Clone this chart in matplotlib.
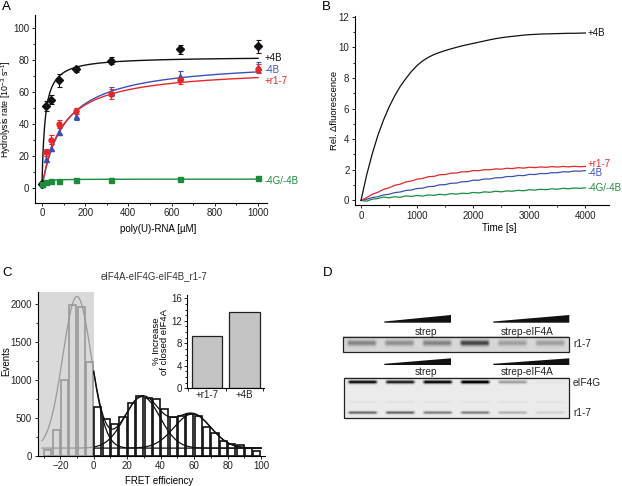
import numpy as np
import matplotlib
matplotlib.use("Agg")
import matplotlib.pyplot as plt
from matplotlib.patches import Polygon, Rectangle
from matplotlib.ticker import MultipleLocator

plt.rcParams['font.family'] = ['Liberation Sans', 'DejaVu Sans']
plt.rcParams['font.size'] = 7
plt.rcParams['axes.linewidth'] = 0.8
plt.rcParams['mathtext.fontset'] = 'custom'
plt.rcParams['mathtext.rm'] = 'Liberation Sans'
plt.rcParams['mathtext.it'] = 'Liberation Sans:italic'
plt.rcParams['mathtext.bf'] = 'Liberation Sans:bold'

W, H = 622, 486

# ---------------- data ----------------
# A: ATPase rate vs poly(U)-RNA
conc = [0, 20, 40, 80, 160, 320, 640, 1000]
rate_4B = [2, 51, 55, 67, 74, 79.5, 86.5, 88.5]
err_4B = [1, 3, 3, 4, 1.5, 2, 3, 4]
rate_m4B = [2, 18, 25, 35, 45, 60, 70, 75.5]
err_m4B = [1, 2, 2, 2, 3, 3, 3, 3]
rate_r17 = [3, 22, 30, 40, 48, 58.5, 67, 74.5]
err_r17 = [1, 2, 3, 2, 2, 3, 2, 3]
rate_m4G = [2, 3.5, 4, 4.2, 4.5, 4.8, 5.3, 6.2]
err_m4G = [0.5, 0.5, 0.5, 0.5, 0.5, 0.5, 0.5, 0.5]
# Michaelis-Menten fits (+4B, -4B, +r1-7, -4G/-4B)
fit_vmax = [82, 80, 75, 5.3]
fit_km = [14, 105, 90, 8]

# B: fluorescence traces, one value every 100 s
time_s = np.arange(0, 4001, 100)
fl_4B = [0, 1.65, 3.04, 4.24, 5.24, 6.10, 6.83, 7.45, 7.97, 8.43, 8.82,
         9.12, 9.35, 9.53, 9.67, 9.79, 9.90, 10.00, 10.10, 10.18, 10.26,
         10.34, 10.42, 10.50, 10.57, 10.63, 10.68, 10.72, 10.76, 10.80, 10.83,
         10.85, 10.87, 10.88, 10.89, 10.90, 10.91, 10.92, 10.92, 10.93, 10.94]
fl_r17 = [0, 0.18, 0.40, 0.53, 0.72, 0.82, 0.99, 1.06, 1.21, 1.27, 1.39,
          1.43, 1.55, 1.57, 1.68, 1.69, 1.78, 1.79, 1.87, 1.87, 1.95,
          1.94, 2.01, 2.00, 2.06, 2.04, 2.10, 2.08, 2.14, 2.11, 2.17,
          2.14, 2.19, 2.16, 2.21, 2.18, 2.22, 2.19, 2.23, 2.20, 2.22]
fl_m4B = [0, 0.07, 0.19, 0.24, 0.36, 0.40, 0.51, 0.55, 0.65, 0.68, 0.78,
          0.80, 0.90, 0.92, 1.02, 1.03, 1.12, 1.13, 1.22, 1.23, 1.32,
          1.32, 1.40, 1.40, 1.48, 1.48, 1.56, 1.56, 1.63, 1.62, 1.70,
          1.69, 1.76, 1.75, 1.81, 1.81, 1.87, 1.86, 1.92, 1.91, 1.95]
fl_m4G = [0.0, -0.05, 0.08, 0.12, 0.22, 0.17, 0.24, 0.20, 0.30, 0.26, 0.32,
          0.28, 0.36, 0.33, 0.40, 0.36, 0.44, 0.41, 0.47, 0.45, 0.52,
          0.49, 0.56, 0.53, 0.60, 0.56, 0.62, 0.60, 0.66, 0.63, 0.70,
          0.67, 0.73, 0.70, 0.76, 0.73, 0.79, 0.76, 0.81, 0.79, 0.82]

# C: FRET histogram (5 % bins from -30 to 100)
bin_left = np.arange(-30, 100, 5)
events = [75, 340, 995, 1985, 1965, 1240, 638, 490, 415, 515, 700, 785, 765,
          745, 615, 515, 530, 550, 525, 385, 303, 200, 150, 140, 105, 60]
gauss_mu = [-10, 29, 59]
gauss_amp = [2000, 680, 450]
gauss_sd = [8.5, 10.5, 11]
gauss_base = 100
inset_labels = ['+r1-7', '+4B']
inset_vals = [9.35, 13.6]

# D: gel band intensities per lane
up_r17 = [0.32, 0.28, 0.33, 0.58, 0.22, 0.22]
low_eif4g = [0.88, 0.82, 0.92, 0.97, 0.30, 0.02]
low_r17 = [0.50, 0.52, 0.42, 0.42, 0.22, 0.10]

C_BLK, C_BLU, C_RED, C_GRN = '#111111', '#3b52b4', '#e8262a', '#1b8c3c'


def box(l, t, r, b):
    return [l / W, 1 - b / H, (r - l) / W, (b - t) / H]


def style(ax):
    for s in ['top', 'right']:
        ax.spines[s].set_visible(False)
    ax.tick_params(direction='out', length=2.5, width=0.7, labelsize=7,
                   pad=1.5, colors='#222222')
    ax.tick_params(which='minor', direction='out', length=1.5, width=0.6)


fig = plt.figure(figsize=(W / 100, H / 100), dpi=100)

# ---------------- A ----------------
ax = fig.add_axes(box(35, 15, 266.7, 202.7))
style(ax)
xs = np.linspace(0, 1000, 400)
sets = [(rate_m4B, err_m4B, C_BLU, '^', 1), (rate_r17, err_r17, C_RED, 'o', 2),
        (rate_4B, err_4B, C_BLK, 'D', 0), (rate_m4G, err_m4G, C_GRN, 's', 3)]
for vals, err, col, mk, k in sets:
    ax.plot(xs, fit_vmax[k] * xs / (fit_km[k] + xs), color=col, lw=1.0)
    ax.errorbar(conc, vals, yerr=err, fmt=mk, color=col, ms=3.6, capsize=1.8,
                elinewidth=0.8, capthick=0.8)
ax.set_xlim(-32, 1040)
ax.set_ylim(-9.5, 108)
ax.xaxis.set_major_locator(MultipleLocator(200))
ax.xaxis.set_minor_locator(MultipleLocator(100))
ax.yaxis.set_major_locator(MultipleLocator(20))
ax.yaxis.set_minor_locator(MultipleLocator(10))
ax.set_xlabel('poly(U)-RNA [µM]', fontsize=7)
ax.set_ylabel('Hydrolysis rate [10$^{-3}$ s$^{-1}$]', fontsize=6.3)
ax.xaxis.set_label_coords(0.53, -0.113)
ax.yaxis.set_label_coords(-0.095, 0.5)
for txt, y, col in [('+4B', 80.9, C_BLK), ('-4B', 73.6, C_BLU),
                    ('+r1-7', 66.7, C_RED), ('-4G/-4B', 4.2, C_GRN)]:
    ax.text(1028, y, txt, color=col, fontsize=7, va='center', ha='left')

# ---------------- B ----------------
ax = fig.add_axes(box(355, 16, 609, 205))
style(ax)
ax.plot(time_s, fl_m4G, color=C_GRN, lw=0.9)
ax.plot(time_s, fl_m4B, color=C_BLU, lw=0.9)
ax.plot(time_s, fl_r17, color=C_RED, lw=0.9)
ax.plot(time_s, fl_4B, color=C_BLK, lw=0.9)
ax.set_xlim(-107, 4420)
ax.set_ylim(-0.3, 12.05)
ax.xaxis.set_major_locator(MultipleLocator(1000))
ax.xaxis.set_minor_locator(MultipleLocator(500))
ax.yaxis.set_major_locator(MultipleLocator(2))
ax.yaxis.set_minor_locator(MultipleLocator(1))
ax.set_xlabel('Time [s]', fontsize=7)
ax.set_ylabel('Rel. \u0394fluorescence', fontsize=6.8)
ax.xaxis.set_label_coords(0.567, -0.094)
ax.yaxis.set_label_coords(-0.063, 0.5)
for txt, y, col in [('+4B', 10.94, C_BLK), ('+r1-7', 2.37, C_RED),
                    ('-4B', 1.82, C_BLU), ('-4G/-4B', 0.81, C_GRN)]:
    ax.text(4040, y, txt, color=col, fontsize=7, va='center', ha='left')

# ---------------- C ----------------
ax = fig.add_axes(box(37.7, 291.7, 265, 455.7))
style(ax)
xmin, xmax = -33.5, 102.4
ax.axvspan(xmin, 0, color='#d9d9d9', zorder=0, lw=0)
centers = bin_left + 2.5
neg = centers < 0
ax.bar(centers[neg], np.array(events)[neg], width=4.2, facecolor='none',
       edgecolor='#999999', lw=1.2, zorder=2)
ax.bar(centers[~neg], np.array(events)[~neg], width=4.2, facecolor='none',
       edgecolor='#111111', lw=1.2, zorder=2)


def gauss(x, k):
    return gauss_amp[k] * np.exp(-(x - gauss_mu[k]) ** 2 / (2 * gauss_sd[k] ** 2))


xl = np.linspace(-31, 0, 200)
xr = np.linspace(0, 100, 400)
ax.plot(xl, gauss_base + gauss(xl, 0), color='#999999', lw=0.9, zorder=3)
ax.plot(xl, gauss_base + gauss(xl, 1) + gauss(xl, 2), color='#999999', lw=0.9, zorder=3)
for k in range(3):
    ax.plot(xr, gauss_base + gauss(xr, k), color='#111111', lw=0.9, zorder=3)
ax.plot(xr, gauss_base + gauss(xr, 0) + gauss(xr, 1) + gauss(xr, 2),
        color='#111111', lw=0.9, zorder=3)
ax.set_xlim(xmin, xmax)
ax.set_ylim(0, 2163)
ax.xaxis.set_major_locator(MultipleLocator(20))
ax.xaxis.set_minor_locator(MultipleLocator(10))
ax.yaxis.set_major_locator(MultipleLocator(500))
ax.yaxis.set_minor_locator(MultipleLocator(250))
ax.set_xlabel('FRET efficiency', fontsize=7)
ax.set_ylabel('Events', fontsize=7)
ax.xaxis.set_label_coords(0.535, -0.124)
ax.yaxis.set_label_coords(-0.117, 0.577)
fig.text(154 / W, 1 - 276 / H, 'eIF4A-eIF4G-eIF4B_r1-7', fontsize=6.9,
         ha='center', va='center', color='#333333')

# inset
ai = fig.add_axes(box(187.3, 295, 264, 388.3))
ai.patch.set_alpha(0)
style(ai)
ai.bar([0, 1], inset_vals, width=0.82, color='#c4c4c4', edgecolor='#222222', lw=0.9)
ai.set_xlim(-0.53, 1.53)
ai.set_ylim(0, 16.6)
ai.yaxis.set_major_locator(MultipleLocator(4))
ai.yaxis.set_minor_locator(MultipleLocator(1))
ai.set_xticks([0, 1], inset_labels)
ai.tick_params(axis='x', which='major', length=0)
ai.set_xticks([-0.5, 0.5, 1.5], minor=True)
ai.tick_params(axis='x', which='minor', length=2)
ai.set_ylabel('% Increase\nof closed eIF4A', fontsize=6.8, labelpad=1,
              linespacing=0.95)

# ---------------- D ----------------
ad = fig.add_axes(box(330, 300, 622, 430))
ad.set_xlim(330, 622)
ad.set_ylim(430, 300)
ad.axis('off')


def gel(nrows, ncols, bands, bg):
    img = np.full((nrows, ncols), bg)
    cols = np.arange(ncols) + 0.5
    rows = np.arange(nrows) + 0.5
    for rc, sd, inten in bands:
        n = len(inten)
        lw_ = ncols / n
        prof_r = np.exp(-(rows - rc) ** 2 / (2 * sd ** 2))
        for i, v in enumerate(inten):
            c = (i + 0.5) * lw_
            m = np.clip((0.42 * lw_ - np.abs(cols - c)) / 3.5, 0, 1)
            img += v * np.outer(prof_r, m)
    return np.clip(img, 0, 1)


g1 = gel(16, 226, [(7.0, 2.0, up_r17)], 0.16)
ad.imshow(g1, cmap='gray_r', vmin=0, vmax=1, extent=(343.3, 569, 352.3, 336.7),
          aspect='auto', interpolation='bilinear')
ad.add_patch(Rectangle((343.3, 336.7), 569 - 343.3, 352.3 - 336.7, fill=False,
                       ec='#222222', lw=0.9))
g2 = gel(41, 225, [(5.0, 1.2, low_eif4g), (35.6, 1.0, low_r17),
                   (25.0, 1.0, [0.03] * 6)], 0.08)
ad.imshow(g2, cmap='gray_r', vmin=0, vmax=1, extent=(344, 569, 418.3, 377.7),
          aspect='auto', interpolation='bilinear')
ad.add_patch(Rectangle((344, 377.7), 569 - 344, 418.3 - 377.7, fill=False,
                       ec='#222222', lw=0.9))
for yb, yt in [(322.7, 315), (365, 358.3)]:
    for xa, xb in [(384.3, 451), (493.3, 569.3)]:
        ad.add_patch(Polygon([(xa, yb), (xb, yb), (xb, yt), (xa, yb - 1.2)],
                             closed=True, fc='#111111', ec='none'))
for y in [331.7, 371.7]:
    ad.text(426, y, 'strep', fontsize=7.3, ha='center', va='center', color='#222222')
    ad.text(527.5, y, 'strep-eIF4A', fontsize=7.3, ha='center', va='center',
            color='#222222')
for y, txt in [(344.3, 'r1-7'), (383.3, 'eIF4G'), (413.3, 'r1-7')]:
    ad.text(573, y, txt, fontsize=7.3, ha='left', va='center', color='#222222')

# panel letters
for x, y, s in [(2, 7, 'A'), (322, 7, 'B'), (2, 273, 'C'), (323, 273, 'D')]:
    fig.text(x / W, 1 - y / H, s, fontsize=9.5, ha='left', va='center')

fig.savefig('out.png', dpi=100)
